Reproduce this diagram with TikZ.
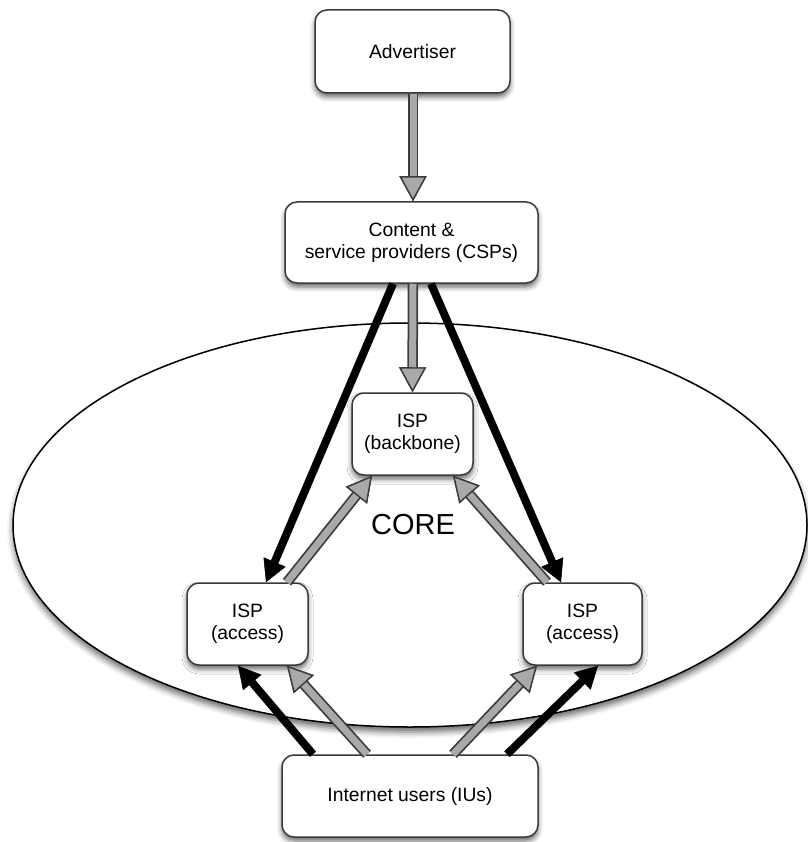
\documentclass[tikz,border=0pt]{standalone}
\usepackage{fontspec}
\setmainfont{Liberation Sans}
\usetikzlibrary{arrows.meta,shapes.geometric,shadows.blur}
\definecolor{gfill}{HTML}{A9A9A9}
\definecolor{gline}{HTML}{3C3C3C}
\definecolor{boxline}{HTML}{3A3A3A}
\tikzset{
  box/.style={draw=boxline, line width=1.5pt, rounded corners=12pt, fill=white,
    align=center, inner sep=0pt, font=\fontsize{19.3pt}{22pt}\selectfont,
    blur shadow={shadow xshift=0pt, shadow yshift=-4pt, shadow blur radius=5pt, shadow opacity=60}},
  gtip/.style={-{Triangle[length=25pt,width=27pt,fill=gfill,color=gline,line width=1.4pt]}},
  gout/.style={gtip, draw=gline, line width=10.5pt},
  gin/.style={gtip, draw=gfill, line width=7pt},
  blk/.style={draw=black, line width=8pt, -{Triangle[length=22pt,width=24pt,line width=0.5pt]}},
}
\begin{document}
\begin{tikzpicture}[x=1pt,y=-1pt]
\useasboundingbox (0,0) rectangle (807,842);
\node[ellipse, draw=black, line width=1.5pt, fill=white, minimum width=794pt, minimum height=404pt,
  inner sep=0pt, blur shadow={shadow xshift=0pt, shadow yshift=-5pt, shadow blur radius=6pt, shadow opacity=60}] (core) at (410,525) {};
\node[font=\fontsize{29pt}{32pt}\selectfont, inner sep=0pt] (corelabel) at (413,525) {CORE};

\node[box, minimum width=195pt, minimum height=83pt] (adv) at (412.5,51.5) {Advertiser};
\node[box, minimum width=253pt, minimum height=81pt] (csp) at (411.5,242.5) {Content \&\\service providers (CSPs)};
\node[box, minimum width=121pt, minimum height=82pt] (bb) at (412.5,434) {ISP\\(backbone)};
\node[box, minimum width=121pt, minimum height=82pt] (accL) at (247.5,624) {ISP\\(access)};
\node[box, minimum width=119pt, minimum height=82pt] (accR) at (582.5,624) {ISP\\(access)};
\node[box, minimum width=256pt, minimum height=82pt] (iu) at (410,796) {Internet users (IUs)};

% gray arrows
\foreach \s in {gout,gin}{
  \draw[\s] ([xshift=0.5pt]adv.south) -- ([xshift=1.5pt]csp.north);
  \draw[\s] ([xshift=1.5pt]csp.south) -- (bb.north);
  \draw[\s] ([xshift=39.5pt]accL.north) -- ([xshift=-40.5pt]bb.south);
  \draw[\s] ([xshift=-35.5pt]accR.north) -- ([xshift=40.5pt]bb.south);
  \draw[\s] ([xshift=-43pt]iu.north) -- ([xshift=39.5pt]accL.south);
  \draw[\s] ([xshift=43pt]iu.north) -- ([xshift=-45.5pt]accR.south);
}
% black arrows
\draw[blk] ([xshift=-18.5pt]csp.south) -- ([xshift=18.5pt]accL.north);
\draw[blk] ([xshift=19.5pt]csp.south) -- ([xshift=-21.5pt]accR.north);
\draw[blk] ([xshift=-97pt]iu.north) -- ([xshift=-9.5pt]accL.south);
\draw[blk] ([xshift=97pt]iu.north) -- ([xshift=15.5pt]accR.south);
\end{tikzpicture}
\end{document}
